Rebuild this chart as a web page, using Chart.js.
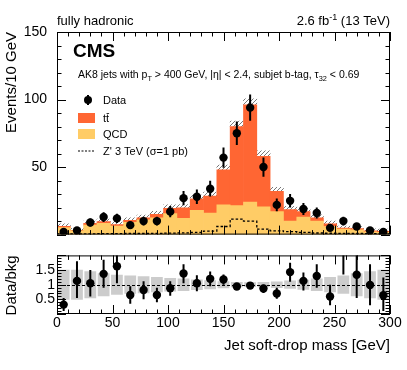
<!DOCTYPE html>
<html>
<head>
<meta charset="utf-8">
<script src="https://cdn.jsdelivr.net/npm/chart.js@4.4.1/dist/chart.umd.min.js"></script>
<style>
html,body{margin:0;padding:0;background:#fff}
#wrap{position:relative;width:407px;height:370px}
canvas{position:absolute;left:0}
#c1{top:0}
#c2{top:245px}
</style>
</head>
<body>
<div id="wrap">
  <canvas id="c1" width="407" height="245"></canvas>
  <canvas id="c2" width="407" height="125"></canvas>
</div>
<script>
// jet soft-drop mass, 12 GeV bins
const binCenters=[6,18,30,42,54,66,78,90,102,114,126,138,150,162,174,186,198,210,222,234,246,258,270,282,294];
const binEdges=[0,12,24,36,48,60,72,84,96,108,120,132,144,156,168,180,192,204,216,228,240,252,264,276,288,300];

// stacked background
const qcd  =[5.2,2.8,7.0,8.3,6.4,9.0,11.0,12.5,15.5,12.0,18.0,16.0,22.0,21.5,24.0,20.5,17.0,10.0,13.0,10.0,6.0,4.0,3.5,2.0,1.7];
const ttbar=[1.0,0.4,1.3,1.3,1.0,1.5,1.5,2.5,4.0,7.8,8.5,12.5,26.0,58.5,72.0,37.5,15.0,8.5,4.0,2.5,2.0,0.8,0.9,0.8,0.8];
const bkgUnc=[1.8,1.5,1.8,1.8,1.8,2.0,2.0,2.2,2.5,2.5,2.8,3.0,3.5,4.0,4.5,4.0,3.0,2.5,2.5,2.2,2.0,1.5,1.5,1.5,1.5];
// Z' 3 TeV signal
const zprime=[0.5,0.6,0.6,0.7,0.7,0.8,0.8,0.9,1.1,1.3,1.7,2.6,6.0,11.5,10.0,4.0,2.8,2.2,1.6,1.2,1.0,0.9,0.8,0.7,0.6];
// data
const dataY  =[2,3,9,13,12,7,10,10,17,27,28,34,57,75,94,50,22,25,19,16,5,10,6,3,2];
const dataErr=[1.4,1.7,3.0,3.6,3.5,2.6,3.2,3.2,4.1,5.2,5.3,5.8,7.5,8.7,9.7,7.1,4.7,5.0,4.4,4.0,2.2,3.2,2.4,1.7,1.4];
// data / bkg
const ratio     =[0.32,1.13,1.05,1.37,1.63,0.65,0.82,0.65,0.88,1.38,1.05,1.20,1.18,0.94,0.97,0.87,0.70,1.43,1.13,1.30,0.60,2.50,1.34,0.99,0.64];
const ratioErrLo=[0.22,0.58,0.45,0.47,0.58,0.30,0.32,0.25,0.26,0.33,0.27,0.25,0.18,0.10,0.10,0.15,0.18,0.33,0.33,0.40,0.30,1.15,0.79,0.69,0.54];
const ratioErrHi=[0.23,0.67,0.45,0.48,0.50,0.30,0.30,0.25,0.24,0.32,0.27,0.25,0.17,0.10,0.10,0.13,0.20,0.32,0.29,0.40,0.40,1.20,0.68,0.71,0.61];
const ratioBand =[0.50,0.50,0.45,0.38,0.33,0.30,0.28,0.25,0.22,0.20,0.17,0.14,0.11,0.08,0.07,0.08,0.10,0.13,0.16,0.20,0.25,0.30,0.38,0.45,0.50];

const TT_COLOR='#ff6633', QCD_COLOR='#ffcc66', BAND_COLOR='#cccccc';
const FONT='"Liberation Sans", Arial, Helvetica, sans-serif';

function hatchPattern(){
  const c=document.createElement('canvas'); c.width=4; c.height=4;
  const g=c.getContext('2d');
  g.strokeStyle='#777'; g.lineWidth=1;
  g.beginPath();
  g.moveTo(0,4); g.lineTo(4,0);
  g.moveTo(-1,1); g.lineTo(1,-1);
  g.moveTo(3,5); g.lineTo(5,3);
  g.stroke();
  return g.createPattern(c,'repeat');
}
const HATCH=hatchPattern();

// vertical error bars for any dataset carrying errLo/errHi
const errorBars={
  id:'errorBars',
  beforeDatasetDraw(chart,args){
    const ds=chart.data.datasets[args.index];
    if(!ds.errLo) return;
    const {ctx,chartArea:a,scales:{x,y}}=chart;
    ctx.save();
    ctx.beginPath(); ctx.rect(a.left,a.top,a.right-a.left,a.bottom-a.top); ctx.clip();
    ctx.strokeStyle='#000'; ctx.lineWidth=2;
    ds.data.forEach((p,i)=>{
      const px=x.getPixelForValue(p.x);
      ctx.beginPath();
      ctx.moveTo(px,y.getPixelForValue(p.y-ds.errLo[i]));
      ctx.lineTo(px,y.getPixelForValue(p.y+ds.errHi[i]));
      ctx.stroke();
    });
    ctx.restore();
  }
};

// ROOT-like frame with inward ticks on all four sides
function drawFrame(chart,xStep,isMajorY,major,minor){
  const {ctx,chartArea:a,scales:{x,y}}=chart;
  ctx.save();
  ctx.strokeStyle='#000'; ctx.lineWidth=1;
  ctx.strokeRect(a.left+.5,a.top+.5,a.right-a.left-1,a.bottom-a.top-1);
  ctx.beginPath();
  for(let v=x.min; v<=x.max+1e-9; v+=xStep){
    const px=Math.round(x.getPixelForValue(v))+.5;
    const L=(Math.round(v)%50===0)?major:minor;
    ctx.moveTo(px,a.bottom); ctx.lineTo(px,a.bottom-L);
    ctx.moveTo(px,a.top); ctx.lineTo(px,a.top+L);
  }
  y.ticks.forEach(t=>{
    const py=Math.round(y.getPixelForValue(t.value))+.5;
    const L=isMajorY(t.value)?major:minor;
    ctx.moveTo(a.left,py); ctx.lineTo(a.left+L,py);
    ctx.moveTo(a.right,py); ctx.lineTo(a.right-L,py);
  });
  ctx.stroke();
  ctx.restore();
}

// text with sub/superscript pieces: [text, shift] (shift>0 raises, <0 lowers)
function richText(ctx,parts,x,y,size,align){
  const w=parts.reduce((s,p)=>{ctx.font=(p[1]?size*0.7:size)+'px '+FONT;return s+ctx.measureText(p[0]).width;},0);
  let cx=align==='right'?x-w:x;
  parts.forEach(p=>{
    ctx.font=(p[1]?size*0.7:size)+'px '+FONT;
    ctx.fillText(p[0],cx,y-p[1]*size);
    cx+=ctx.measureText(p[0]).width;
  });
}

const mainDecor={
  id:'mainDecor',
  afterDraw(chart){
    drawFrame(chart,10,v=>v%50===0,9,4.5);
    const ctx=chart.ctx;
    ctx.save();
    ctx.fillStyle='#000'; ctx.textBaseline='alphabetic'; ctx.textAlign='left';
    ctx.font='13px '+FONT;
    ctx.fillText('fully hadronic',57,25);
    richText(ctx,[['2.6 fb',0],['-1',0.4],[' (13 TeV)',0]],390,25,13,'right');
    ctx.font='bold 19px '+FONT;
    ctx.fillText('CMS',73,57);
    richText(ctx,[['AK8 jets with p',0],['T',-0.3],[' > 400 GeV, |\u03b7| < 2.4, subjet b-tag, \u03c4',0],['32',-0.3],[' < 0.69',0]],78,78,10.5,'left');
    // legend
    const lx=78, tx=103;
    ctx.strokeStyle='#000'; ctx.lineWidth=2;
    ctx.beginPath(); ctx.moveTo(88,95); ctx.lineTo(88,105); ctx.stroke();
    ctx.beginPath(); ctx.arc(88,100,4,0,Math.PI*2); ctx.fill();
    ctx.font='11px '+FONT;
    ctx.fillText('Data',tx,104);
    ctx.fillStyle=TT_COLOR; ctx.fillRect(lx,113,17,10);
    ctx.fillStyle=QCD_COLOR; ctx.fillRect(lx,129,17,10);
    ctx.fillStyle='#000';
    ctx.fillText('tt',tx,122);
    const tw=ctx.measureText('t').width;
    ctx.lineWidth=0.8;
    ctx.beginPath(); ctx.moveTo(tx+tw+0.5,113.5); ctx.lineTo(tx+2*tw,113.5); ctx.stroke();
    ctx.fillText('QCD',tx,138);
    ctx.lineWidth=1.2; ctx.setLineDash([2,1.5]);
    ctx.beginPath(); ctx.moveTo(lx,151); ctx.lineTo(lx+17,151); ctx.stroke();
    ctx.setLineDash([]);
    ctx.fillText("Z' 3 TeV (\u03c3=1 pb)",tx,155);
    ctx.restore();
  }
};

const ratioDecor={
  id:'ratioDecor',
  afterDatasetDraw(chart,args){
    if(!chart.data.datasets[args.index].isBand) return;
    const {ctx,chartArea:a,scales:{y}}=chart;
    const py=Math.round(y.getPixelForValue(1))+.5;
    ctx.save(); ctx.strokeStyle='#000'; ctx.lineWidth=1; ctx.setLineDash([3,2]);
    ctx.beginPath(); ctx.moveTo(a.left,py); ctx.lineTo(a.right,py); ctx.stroke();
    ctx.restore();
  },
  afterDraw(chart){
    drawFrame(chart,10,v=>Math.abs(v*2-Math.round(v*2))<1e-6,9,4.5);
  }
};

const tickFont={family:FONT,size:14};
const fullBin={barPercentage:1,categoryPercentage:1,borderWidth:0};

new Chart(document.getElementById('c1'),{
  type:'bar',
  data:{datasets:[
    {label:'QCD',stack:'bkg',data:binCenters.map((x,i)=>({x,y:qcd[i]})),backgroundColor:QCD_COLOR,...fullBin},
    {label:'ttbar',stack:'bkg',data:binCenters.map((x,i)=>({x,y:ttbar[i]})),backgroundColor:TT_COLOR,...fullBin},
    {label:'unc',stack:'bkg',data:binCenters.map((x,i)=>({x,y:bkgUnc[i]})),backgroundColor:HATCH,...fullBin},
    {type:'line',label:'Zprime',stack:'zp',order:-1,
     data:binEdges.map((x,i)=>({x,y:zprime[Math.min(i,zprime.length-1)]})),
     stepped:'before',borderColor:'#000',borderWidth:1.3,borderDash:[2.5,2],pointRadius:0,fill:false},
    {type:'line',label:'Data',stack:'data',order:-2,data:binCenters.map((x,i)=>({x,y:dataY[i]})),
     showLine:false,pointRadius:4.2,pointBackgroundColor:'#000',pointBorderWidth:0,errLo:dataErr,errHi:dataErr}
  ]},
  options:{
    responsive:false,animation:false,events:[],
    layout:{padding:{top:32,right:17,bottom:4,left:0}},
    plugins:{legend:{display:false},tooltip:{enabled:false}},
    scales:{
      x:{type:'linear',min:0,max:300,offset:false,display:false},
      y:{min:0,max:150,stacked:true,afterFit:s=>{s.width=57;},
         grid:{display:false},border:{display:false},
         ticks:{stepSize:10,padding:2,color:'#000',font:tickFont,autoSkip:false,
                callback:v=>(v>0&&v%50===0)?String(v):''},
         title:{display:true,text:'Events/10 GeV',align:'end',color:'#000',font:{family:FONT,size:15},padding:{top:3,bottom:0}}}
    }
  },
  plugins:[errorBars,mainDecor]
});

new Chart(document.getElementById('c2'),{
  type:'bar',
  data:{datasets:[
    {type:'line',label:'ratio',order:-1,data:binCenters.map((x,i)=>({x,y:ratio[i]})),
     showLine:false,pointRadius:4.2,pointBackgroundColor:'#000',pointBorderWidth:0,errLo:ratioErrLo,errHi:ratioErrHi},
    {label:'band',isBand:true,data:binCenters.map((x,i)=>({x,y:[1-ratioBand[i],1+ratioBand[i]]})),
     backgroundColor:BAND_COLOR,...fullBin}
  ]},
  options:{
    responsive:false,animation:false,events:[],
    layout:{padding:{top:2,right:17,bottom:0,left:0}},
    plugins:{legend:{display:false},tooltip:{enabled:false}},
    scales:{
      x:{type:'linear',min:0,max:300,offset:false,afterFit:s=>{s.height=56;},
         grid:{display:false,drawTicks:false},border:{display:false},
         ticks:{stepSize:10,autoSkip:false,maxRotation:0,padding:1,color:'#000',font:tickFont,
                callback:v=>(Math.round(v)%50===0)?String(v):''},
         title:{display:true,text:'Jet soft-drop mass [GeV]',align:'end',color:'#000',font:{family:FONT,size:15},padding:{top:0,bottom:15}}},
      y:{min:0,max:2,afterFit:s=>{s.width=57;},
         grid:{display:false,drawTicks:false},border:{display:false},
         ticks:{stepSize:0.1,autoSkip:false,padding:2,color:'#000',font:tickFont,
                callback:v=>{const r=Math.round(v*10)/10;return (r===0.5||r===1||r===1.5)?String(r):'';}},
         title:{display:true,text:'Data/bkg',align:'end',color:'#000',font:{family:FONT,size:15},padding:{top:3,bottom:0}}}
    }
  },
  plugins:[errorBars,ratioDecor]
});
</script>
</body>
</html>
